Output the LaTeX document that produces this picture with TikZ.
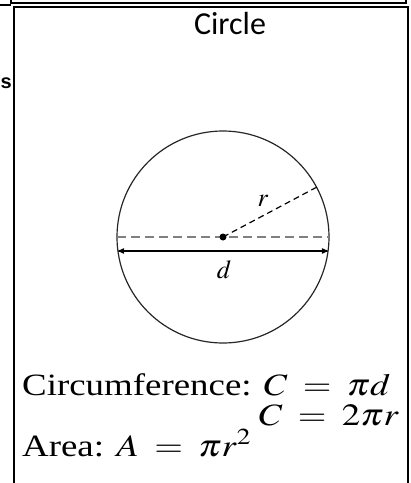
\documentclass[tikz,border=0pt]{standalone}
\usepackage{graphicx}
\usepackage{mathptmx}
\usepackage[no-math]{fontspec}
\setmainfont{Liberation Serif}
\newfontfamily\titlefont{Carlito}
\newfontfamily\boldsans{Liberation Sans}
\usetikzlibrary{arrows}
\newcommand\formulafont{\fontsize{31}{33}\selectfont\thickmuskip=7.5mu\relax}
\newcommand\widen[1]{\scalebox{1.19}[1]{#1}}

\begin{document}
\begin{tikzpicture}[x=1pt, y=-1pt,
    frame/.style={line width=2pt},
    rim/.style={line width=1.2pt, black!85},
    diam/.style={gray, line width=2pt, dash pattern=on 9pt off 5pt},
    txt/.style={font=\formulafont, inner sep=0, anchor=base west},
    lab/.style={font=\fontsize{26}{28}\selectfont, inner sep=0}]
	\useasboundingbox (0,0) rectangle (411,483);
	\clip (0,0) rectangle (411,483);
	% frames
	\draw [frame] (11,-20) rectangle (406,3);
	\draw [frame] (0,4.5) -- (11,4.5);
	\draw [frame] (14,7) rectangle (408,500);
	\node [font=\boldsans\bfseries\fontsize{20}{22}\selectfont, anchor=base west, inner sep=0] (s) at (0.5,88) {s};
	\node [font=\titlefont\fontsize{32}{36}\selectfont, anchor=base] (title) at (230,34) {Circle};
	% the circle
	\coordinate (O) at (223,237);
	\coordinate (west) at (117,237);
	\coordinate (east) at (329,237);
	\coordinate (dl) at (118,251);
	\coordinate (dr) at (328,251);
	\coordinate (rp) at (317,187);
	\draw [rim] (O) circle (106pt);
	\draw [diam] (west) -- (east);
	\draw [line width=1.2pt, dash pattern=on 6pt off 4pt] (O) -- (rp);
	\draw [line width=1.2pt, stealth'-stealth'] (dl) -- (dr);
	\fill (O) circle (3.5pt);
	\node [lab] (r) at (263,201) {$r$};
	\node [lab] (d) at (224,270) {$d$};
	% formulas
	\node [txt] (circ) at (22,395) {\widen{Circumference: $C = \pi d$}};
	\node [txt, anchor=base east] (circ2) at (399,425) {\widen{$C = 2\pi r$}};
	\node [txt] (area) at (22,456) {\widen{Area: $A = \pi r^2$}};
\end{tikzpicture}
\end{document}
